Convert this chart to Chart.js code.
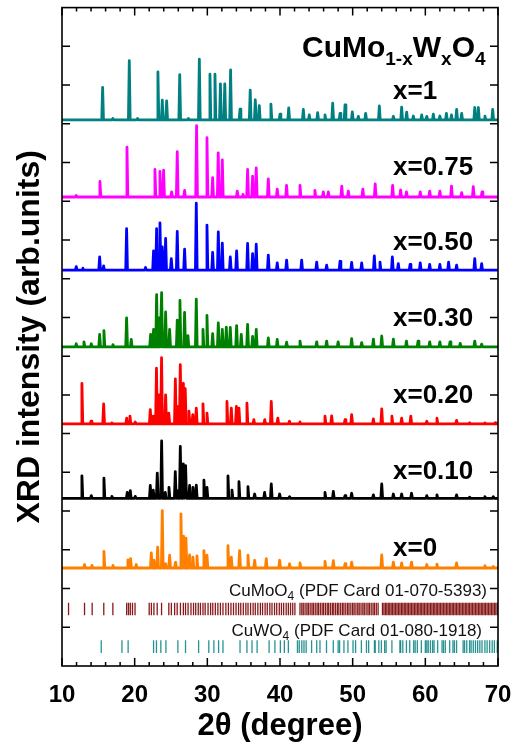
<!DOCTYPE html>
<html>
<head>
<meta charset="utf-8">
<title>CuMo1-xWxO4 XRD</title>
<script src="https://cdn.jsdelivr.net/npm/chart.js@4.4.0/dist/chart.umd.min.js"></script>
<style>
  html, body { margin: 0; padding: 0; background: #fff; }
  #wrap { width: 514px; height: 745px; }
</style>
</head>
<body>
<div id="wrap"><canvas id="xrdChart" width="514" height="745"></canvas></div>
<script>
// --- data: peak positions (2theta, deg) and heights above each baseline (arb. units) ---
const compositions = ['x=1', 'x=0.75', 'x=0.50', 'x=0.30', 'x=0.20', 'x=0.10', 'x=0'];
const baselines = [14.1, 12.11, 10.22, 8.24, 6.25, 4.33, 2.53];

const pos_x100 = [15.59, 17.0, 19.26, 20.4, 23.2, 23.8, 24.4, 26.2, 27.4, 28.9, 30.36, 31.05, 31.8, 32.4, 33.2, 34.5, 35.9, 36.6, 37.15, 38.75, 40.0, 41.2, 43.21, 44.03, 45.18, 46.19, 47.25, 48.26, 48.95, 49.95, 50.78, 51.79, 53.67, 55.6, 56.74, 57.43, 58.35, 59.5, 60.2, 61.1, 62.0, 62.9, 63.6, 64.31, 65.0, 66.8, 67.3, 68.2, 69.27];
const int_x100 = [0.84, 0.04, 1.53, 0.04, 1.24, 0.51, 0.49, 1.17, 0.04, 1.57, 1.18, 1.18, 0.93, 0.93, 1.29, 0.28, 0.77, 0.52, 0.37, 0.41, 0.15, 0.31, 0.27, 0.13, 0.19, 0.13, 0.43, 0.17, 0.39, 0.21, 0.09, 0.17, 0.36, 0.09, 0.33, 0.2, 0.1, 0.13, 0.09, 0.15, 0.1, 0.17, 0.13, 0.27, 0.17, 0.32, 0.32, 0.1, 0.27];

const pos_x075 = [11.96, 15.22, 18.94, 22.79, 23.48, 23.98, 25.08, 25.86, 26.87, 28.52, 29.95, 30.73, 31.5, 32.06, 34.12, 34.9, 35.54, 36.23, 36.73, 38.39, 39.62, 40.9, 42.75, 44.8, 45.96, 46.65, 48.5, 49.4, 51.4, 53.1, 55.5, 56.6, 57.4, 59.3, 60.6, 62.0, 63.6, 65.0, 66.6, 67.8];
const int_x075 = [0.04, 0.4, 1.29, 0.71, 0.66, 0.69, 0.13, 1.17, 0.17, 1.84, 1.53, 0.5, 1.14, 0.96, 0.15, 0.07, 0.71, 0.54, 0.75, 0.47, 0.2, 0.3, 0.3, 0.17, 0.13, 0.13, 0.28, 0.15, 0.2, 0.34, 0.3, 0.18, 0.13, 0.13, 0.15, 0.15, 0.28, 0.11, 0.27, 0.13];

const pos_x050 = [11.96, 12.88, 15.18, 15.73, 18.89, 21.5, 22.6, 23.02, 23.48, 23.8, 24.26, 25.04, 25.86, 26.87, 28.48, 29.95, 30.73, 31.51, 32.06, 33.16, 34.03, 35.54, 36.23, 36.73, 38.39, 39.62, 40.91, 42.98, 45.05, 46.42, 48.26, 49.86, 51.24, 52.98, 53.76, 55.46, 56.28, 57.9, 59.3, 60.6, 62.0, 63.2, 64.3, 66.8, 67.75];
const int_x050 = [0.09, 0.05, 0.34, 0.11, 1.07, 0.07, 0.5, 1.07, 1.22, 0.6, 0.82, 0.3, 1.0, 0.54, 1.73, 1.16, 0.46, 0.99, 0.7, 0.34, 0.5, 0.69, 0.43, 0.67, 0.39, 0.19, 0.26, 0.26, 0.21, 0.13, 0.23, 0.2, 0.19, 0.37, 0.21, 0.34, 0.17, 0.15, 0.19, 0.15, 0.15, 0.21, 0.13, 0.3, 0.17];

const pos_x030 = [11.96, 13.02, 14.03, 15.18, 15.77, 17.01, 18.89, 19.53, 22.19, 22.6, 23.02, 23.39, 23.71, 24.26, 24.81, 25.86, 26.23, 26.87, 27.33, 28.48, 29.4, 29.95, 30.73, 31.51, 32.06, 32.61, 33.16, 34.03, 34.67, 35.54, 36.23, 36.73, 38.39, 39.62, 40.91, 42.75, 45.05, 46.42, 48.0, 49.86, 51.24, 52.85, 54.0, 55.6, 57.4, 59.0, 60.6, 62.0, 63.4, 64.8, 66.8, 67.75];
const int_x030 = [0.08, 0.13, 0.08, 0.32, 0.42, 0.06, 0.75, 0.19, 0.32, 0.45, 1.35, 0.75, 1.4, 0.9, 0.45, 0.69, 1.2, 0.89, 0.29, 1.23, 0.45, 0.81, 0.34, 0.62, 0.45, 0.51, 0.5, 0.55, 0.32, 0.58, 0.27, 0.45, 0.23, 0.19, 0.12, 0.15, 0.13, 0.15, 0.13, 0.21, 0.11, 0.2, 0.28, 0.2, 0.15, 0.15, 0.13, 0.13, 0.13, 0.09, 0.15, 0.07];

const pos_x020 = [12.74, 14.0, 15.73, 16.87, 18.9, 19.35, 20.08, 22.15, 22.56, 23.0, 23.34, 23.7, 24.26, 24.7, 25.6, 25.86, 26.28, 26.7, 26.96, 27.47, 28.0, 28.48, 29.4, 29.95, 32.7, 33.3, 34.0, 34.35, 35.45, 36.4, 37.9, 38.8, 39.7, 41.3, 42.75, 46.19, 47.11, 48.95, 49.86, 52.85, 54.0, 55.4, 56.74, 58.0, 60.2, 61.6, 64.3, 66.1, 68.2, 69.6];
const int_x020 = [1.05, 0.07, 0.52, 0.03, 0.15, 0.2, 0.05, 0.37, 0.2, 1.44, 0.75, 1.71, 0.75, 0.28, 1.16, 0.45, 1.53, 1.05, 0.91, 0.33, 0.24, 0.41, 0.52, 0.28, 0.58, 0.41, 0.45, 0.41, 0.54, 0.11, 0.11, 0.58, 0.15, 0.07, 0.05, 0.2, 0.21, 0.11, 0.24, 0.13, 0.39, 0.2, 0.15, 0.2, 0.07, 0.15, 0.09, 0.03, 0.03, 0.03];

const pos_x010 = [12.74, 14.03, 15.77, 16.87, 18.98, 19.4, 20.08, 22.15, 22.56, 23.11, 23.71, 24.21, 24.72, 25.59, 25.86, 26.28, 26.69, 27.01, 27.56, 28.02, 28.48, 29.53, 29.95, 32.84, 33.39, 34.35, 35.59, 36.51, 37.88, 38.8, 39.95, 41.32, 46.19, 47.34, 48.95, 49.86, 52.85, 54.0, 55.6, 56.74, 58.1, 60.2, 61.6, 64.3, 66.1, 68.2, 69.35];
const int_x010 = [0.58, 0.07, 0.52, 0.05, 0.15, 0.2, 0.05, 0.33, 0.21, 0.65, 1.48, 0.15, 0.28, 0.69, 0.2, 1.34, 0.89, 0.84, 0.33, 0.28, 0.34, 0.47, 0.28, 0.58, 0.21, 0.43, 0.3, 0.11, 0.15, 0.37, 0.11, 0.04, 0.15, 0.18, 0.07, 0.13, 0.09, 0.37, 0.11, 0.11, 0.13, 0.07, 0.09, 0.09, 0.03, 0.04, 0.04];

const pos_x000 = [13.11, 14.12, 15.77, 17.01, 19.07, 19.44, 20.22, 22.29, 22.65, 23.16, 23.8, 24.26, 24.81, 25.63, 26.37, 26.73, 27.06, 27.56, 28.02, 28.57, 29.53, 29.95, 32.84, 33.3, 34.44, 35.59, 36.51, 38.11, 39.95, 41.32, 42.75, 46.19, 47.34, 48.95, 49.86, 54.0, 55.6, 56.74, 58.1, 60.2, 61.6, 64.3, 68.2, 69.35];
const int_x000 = [0.09, 0.07, 0.43, 0.07, 0.21, 0.24, 0.09, 0.39, 0.2, 0.54, 1.48, 0.11, 0.33, 0.15, 1.4, 0.82, 0.77, 0.34, 0.28, 0.31, 0.45, 0.33, 0.58, 0.28, 0.45, 0.33, 0.2, 0.24, 0.2, 0.11, 0.13, 0.17, 0.19, 0.11, 0.15, 0.34, 0.15, 0.13, 0.15, 0.09, 0.1, 0.13, 0.06, 0.04];

// reference line positions (PDF cards)
const cumoo4Lines = [10.9, 13.1, 14.15, 15.75, 17.0, 18.9, 19.15, 19.4, 19.7, 20.05, 22.0, 22.3, 22.65, 23.1, 23.7, 24.7, 25.05, 25.5, 25.85, 26.3, 26.7, 27.0, 27.35, 27.75, 28.1, 28.4, 28.75, 29.05, 29.4, 29.7, 30.1, 30.45, 30.75, 31.1, 31.45, 31.8, 32.15, 32.55, 32.9, 33.25, 33.6, 33.95, 34.3, 34.6, 34.95, 35.3, 35.6, 35.95, 36.3, 36.6, 36.95, 37.3, 37.6, 37.95, 38.25, 38.6, 38.9, 39.25, 39.55, 39.9, 40.2, 40.5, 40.85, 41.15, 41.45, 41.75, 42.05, 42.75, 43.0, 43.2, 43.45, 43.7, 43.9, 44.15, 44.4, 44.6, 44.85, 45.1, 45.3, 45.55, 45.8, 46.0, 46.25, 46.5, 46.7, 46.95, 47.2, 47.4, 47.65, 47.9, 48.1, 48.35, 48.6, 48.8, 49.05, 49.3, 49.5, 49.75, 50.0, 50.2, 50.45, 50.7, 50.9, 51.15, 51.4, 51.6, 51.85, 52.1, 52.3, 52.55, 52.8, 53.0, 53.25, 53.5, 54.1, 54.3, 54.5, 54.7, 54.9, 55.1, 55.3, 55.5, 55.7, 55.9, 56.1, 56.3, 56.5, 56.7, 56.9, 57.1, 57.3, 57.5, 57.7, 57.9, 58.1, 58.3, 58.5, 58.7, 58.9, 59.1, 59.3, 59.5, 59.7, 59.9, 60.1, 60.3, 60.5, 60.7, 60.9, 61.1, 61.3, 61.5, 61.7, 61.9, 62.1, 62.3, 62.5, 62.7, 62.9, 63.1, 63.3, 63.5, 63.7, 63.9, 64.1, 64.3, 64.5, 64.7, 64.9, 65.1, 65.3, 65.5, 65.7, 65.9, 66.1, 66.3, 66.5, 66.7, 66.9, 67.1, 67.3, 67.5, 67.7, 67.9, 68.1, 68.3, 68.5, 68.7, 68.9, 69.1, 69.3, 69.5, 69.7, 69.9];
const cuwo4Lines = [15.4, 18.25, 19.1, 22.6, 23.0, 23.6, 24.3, 25.95, 27.0, 28.8, 30.2, 30.9, 31.55, 32.15, 34.5, 35.45, 36.15, 36.85, 38.5, 39.3, 40.05, 40.6, 41.15, 42.4, 42.65, 43.0, 43.3, 43.6, 44.35, 45.05, 45.5, 46.4, 47.33, 48.0, 48.2, 48.8, 49.35, 50.05, 50.4, 51.2, 51.9, 52.2, 53.0, 53.1, 53.6, 53.95, 54.4, 54.6, 55.4, 56.5, 56.6, 56.9, 57.4, 57.85, 58.4, 58.6, 58.9, 59.45, 60.0, 60.2, 60.4, 60.7, 61.0, 61.2, 61.7, 62.3, 62.5, 62.75, 63.35, 63.8, 64.0, 64.3, 65.2, 65.4, 65.7, 66.1, 66.3, 66.6, 66.9, 67.2, 67.5, 67.8, 68.2, 68.5, 68.85, 69.2, 69.5, 69.9];
const refRows = [1.47, 0.5];

const xTicks = [10, 20, 30, 40, 50, 60, 70];

// --- styling ---
const FONT = '"Liberation Sans", Arial, Helvetica, sans-serif';
const traceColors = ['#008080', '#ff00ff', '#0000ff', '#008000', '#ff0000', '#000000', '#ff8000'];
const PEAK_HALF = 0.12;

function tracePoints(base, pos, amp) {
    const pts = [{ x: 10, y: base }];
    pos.forEach((p, i) => {
        pts.push({ x: p - PEAK_HALF, y: base }, { x: p, y: base + amp[i] }, { x: p + PEAK_HALF, y: base });
    });
    pts.push({ x: 70, y: base });
    return pts;
}

const patterns = [
    [pos_x100, int_x100], [pos_x075, int_x075], [pos_x050, int_x050], [pos_x030, int_x030],
    [pos_x020, int_x020], [pos_x010, int_x010], [pos_x000, int_x000]
];

const datasets = patterns.map((pat, i) => ({
    label: compositions[i],
    data: tracePoints(baselines[i], pat[0], pat[1]),
    borderColor: traceColors[i],
    borderWidth: 2.8,
    borderJoinStyle: 'round',
    pointRadius: 0,
    tension: 0,
    fill: false
}));

datasets.push({
    label: 'CuMoO4',
    data: cumoo4Lines.map(p => ({ x: p, y: refRows[0] })),
    showLine: false,
    pointStyle: 'line',
    rotation: 90,
    pointRadius: 6.3,
    pointBorderWidth: 1.3,
    pointBorderColor: 'rgba(122,0,0,0.9)',
    borderColor: 'rgba(122,0,0,0.9)'
});
datasets.push({
    label: 'CuWO4',
    data: cuwo4Lines.map(p => ({ x: p, y: refRows[1] })),
    showLine: false,
    pointStyle: 'line',
    rotation: 90,
    pointRadius: 6.3,
    pointBorderWidth: 1.3,
    pointBorderColor: 'rgba(0,128,128,0.85)',
    borderColor: 'rgba(0,128,128,0.85)'
});

// text label positions (layout, in axis units)
const labelAt2theta = 55.55;
const labelLevels = [14.65, 12.67, 10.75, 8.77, 6.79, 4.83, 2.85];

// draws the frame, inward ticks and all annotations
const framePlugin = {
    id: 'frame',
    afterDraw(chart) {
        const { ctx, chartArea: a, scales: { x, y } } = chart;
        ctx.save();
        ctx.strokeStyle = '#000';
        ctx.lineWidth = 1.6;
        ctx.strokeRect(a.left, a.top, a.right - a.left, a.bottom - a.top);

        ctx.lineWidth = 1.5;
        ctx.beginPath();
        for (let v = 10; v <= 70; v += 2) {
            const px = x.getPixelForValue(v);
            const len = v % 10 === 0 ? 8 : 4;
            ctx.moveTo(px, a.bottom); ctx.lineTo(px, a.bottom - len);
            ctx.moveTo(px, a.top); ctx.lineTo(px, a.top + len);
        }
        for (let v = 1; v < 17; v++) {
            const py = y.getPixelForValue(v);
            ctx.moveTo(a.left, py); ctx.lineTo(a.left + 8, py);
            ctx.moveTo(a.right, py); ctx.lineTo(a.right - 8, py);
        }
        ctx.stroke();

        // composition labels
        ctx.fillStyle = '#000';
        ctx.textBaseline = 'alphabetic';
        ctx.textAlign = 'left';
        ctx.font = 'bold 26px ' + FONT;
        const lx = x.getPixelForValue(labelAt2theta);
        compositions.forEach((t, i) => ctx.fillText(t, lx, y.getPixelForValue(labelLevels[i])));

        // formula title CuMo(1-x)W(x)O4
        const parts = [['CuMo', 0], ['1-x', 1], ['W', 0], ['x', 1], ['O', 0], ['4', 1]];
        let tx = 302;
        const ty = 57;
        parts.forEach(([s, sub]) => {
            ctx.font = (sub ? 'bold 19px ' : 'bold 30px ') + FONT;
            ctx.fillText(s, tx, sub ? ty + 8 : ty);
            tx += ctx.measureText(s).width;
        });

        // reference card labels (right aligned)
        const refLabel = (pre, sub, post, right, base) => {
            ctx.font = '17px ' + FONT;
            const w1 = ctx.measureText(pre).width;
            const w3 = ctx.measureText(post).width;
            ctx.font = '12px ' + FONT;
            const w2 = ctx.measureText(sub).width;
            let sx = right - (w1 + w2 + w3);
            ctx.fillStyle = '#111';
            ctx.font = '17px ' + FONT;
            ctx.fillText(pre, sx, base);
            ctx.font = '12px ' + FONT;
            ctx.fillText(sub, sx + w1, base + 4);
            ctx.font = '17px ' + FONT;
            ctx.fillText(post, sx + w1 + w2, base);
        };
        refLabel('CuMoO', '4', ' (PDF Card 01-070-5393)', 487, 596);
        refLabel('CuWO', '4', ' (PDF Card 01-080-1918)', 482, 636);
        ctx.restore();
    }
};

const chart = new Chart(document.getElementById('xrdChart').getContext('2d'), {
    type: 'line',
    data: { datasets },
    options: {
        responsive: false,
        animation: false,
        parsing: true,
        layout: { padding: { top: 5, right: 16, left: 0, bottom: 0 } },
        plugins: { legend: { display: false }, tooltip: { enabled: false } },
        scales: {
            x: {
                type: 'linear',
                min: 10,
                max: 70,
                afterBuildTicks: s => { s.ticks = xTicks.map(v => ({ value: v })); },
                ticks: { color: '#000', font: { family: FONT, size: 24, weight: 'bold', lineHeight: 2.42 }, padding: 0, maxRotation: 0, autoSkip: false },
                grid: { display: false, drawTicks: false },
                border: { display: false },
                title: { display: true, text: '2θ (degree)', color: '#000', font: { family: FONT, size: 31, weight: 'bold' }, padding: { top: 0, bottom: 0 } },
                afterFit: s => { s.height = 79; }
            },
            y: {
                type: 'linear',
                min: 0,
                max: 17,
                ticks: { display: false, stepSize: 1 },
                grid: { display: false, drawTicks: false },
                border: { display: false },
                title: { display: true, text: 'XRD intensity (arb.units)', color: '#000', font: { family: FONT, size: 32, weight: 'bold' }, padding: { top: 11, bottom: 0 } },
                afterFit: s => { s.width = 62; }
            }
        }
    },
    plugins: [framePlugin]
});
</script>
</body>
</html>
